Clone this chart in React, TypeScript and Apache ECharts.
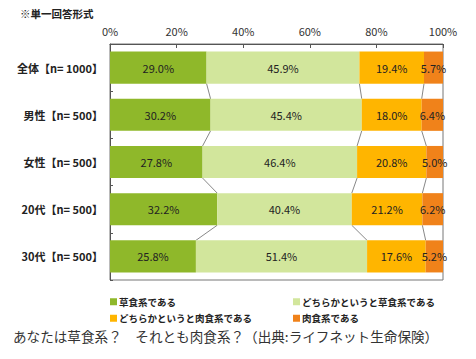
import React, { useEffect, useRef } from "react";
import * as echarts from "echarts";

const categories = ["全体【n= 1000】", "男性【n= 500】", "女性【n= 500】", "20代【n= 500】", "30代【n= 500】"];
const seriesNames = ["草食系である", "どちらかというと草食系である", "どちらかというと肉食系である", "肉食系である"];
const herbivore = [29.0, 30.2, 27.8, 32.2, 25.8];
const ratherHerbivore = [45.9, 45.4, 46.4, 40.4, 51.4];
const ratherCarnivore = [19.4, 18.0, 20.8, 21.2, 17.6];
const carnivore = [5.7, 6.4, 5.0, 6.2, 5.2];
const xTicks = [0, 20, 40, 60, 80, 100];
const colors = ["#8fb82a", "#d2e69c", "#ffb500", "#f0821a"];

const FONT = "'Noto Sans CJK JP', 'Noto Sans', sans-serif";

export default function App() {
  const ref = useRef<HTMLDivElement>(null);
  useEffect(() => {
    if (!ref.current) return;
    const chart = echarts.init(ref.current, null, { renderer: "svg" });
    const values = [herbivore, ratherHerbivore, ratherCarnivore, carnivore];
    const connectorData: number[][] = [];
    for (let i = 0; i < categories.length - 1; i++) {
      for (let j = 0; j < 3; j++) connectorData.push([i, j]);
    }
    const cum = (row: number, upto: number) => {
      let s = 0;
      for (let k = 0; k <= upto; k++) s += values[k][row];
      return s;
    };
    const barSeries = values.map((v, idx) => ({
      name: seriesNames[idx],
      type: "bar",
      stack: "total",
      barWidth: "68%",
      data: v,
      itemStyle: { color: colors[idx] },
      label: {
        show: true,
        position: "inside",
        formatter: (p: any) => p.value.toFixed(1) + "%",
        color: "#222",
        fontSize: 11,
        fontFamily: FONT,
      },
      z: 2,
    }));
    const legendText = { fontSize: 9.5, fontWeight: "bold", color: "#222", fontFamily: FONT, padding: [0, 0, 0, -3] };
    chart.setOption({
      animation: false,
      textStyle: { fontFamily: FONT },
      graphic: [
        {
          type: "text",
          left: 20,
          top: 8,
          style: { text: "※単一回答形式", fill: "#222", font: `bold 10.5px ${FONT}` },
        },
        {
          type: "text",
          left: 13,
          top: 329,
          style: {
            text: "あなたは草食系？　それとも肉食系？（出典:ライフネット生命保険）",
            fill: "#333",
            font: `13.6px ${FONT}`,
          },
        },
      ],
      legend: [
        {
          left: 105,
          top: 292,
          orient: "vertical",
          itemWidth: 7,
          itemHeight: 7,
          itemGap: 7,
          icon: "rect",
          data: [seriesNames[0], seriesNames[2]],
          textStyle: legendText,
        },
        {
          left: 288,
          top: 292,
          orient: "vertical",
          itemWidth: 7,
          itemHeight: 7,
          itemGap: 7,
          icon: "rect",
          data: [seriesNames[1], seriesNames[3]],
          textStyle: legendText,
        },
      ],
      grid: {
        left: 110,
        top: 44,
        width: 333,
        height: 236,
        show: true,
        borderColor: "#777",
        borderWidth: 1,
        backgroundColor: "transparent",
      },
      xAxis: {
        type: "value",
        position: "top",
        min: 0,
        max: 100,
        interval: 20,
        axisLine: { show: true, lineStyle: { color: "#555" } },
        axisTick: { show: true, inside: true, length: 4, lineStyle: { color: "#555" } },
        splitLine: { show: false },
        axisLabel: {
          margin: 8,
          color: "#333",
          fontSize: 11,
          fontFamily: FONT,
          formatter: (v: number) => (xTicks.includes(v) ? v + "%" : ""),
        },
      },
      yAxis: {
        type: "category",
        inverse: true,
        data: categories,
        axisLine: { show: true, lineStyle: { color: "#555" } },
        axisTick: { show: true, inside: true, length: 3, lineStyle: { color: "#555" } },
        axisLabel: { margin: 7, color: "#222", fontSize: 11, fontWeight: "bold", fontFamily: FONT },
      },
      series: [
        ...barSeries,
        {
          type: "custom",
          name: "connectors",
          data: connectorData,
          z: 1,
          silent: true,
          renderItem: (params: any, api: any) => {
            const i = api.value(0);
            const j = api.value(1);
            const bandH = api.size([0, 1])[1];
            const half = (bandH * 0.68) / 2;
            const a = api.coord([cum(i, j), i]);
            const b = api.coord([cum(i + 1, j), i + 1]);
            return {
              type: "line",
              shape: { x1: a[0], y1: a[1] + half, x2: b[0], y2: b[1] - half },
              style: { stroke: "#888", lineWidth: 1 },
            };
          },
        },
      ],
    });
    return () => chart.dispose();
  }, []);
  return <div ref={ref} style={{ position: "fixed", left: 0, top: 0, width: 476, height: 359, background: "#fff" }} />;
}
